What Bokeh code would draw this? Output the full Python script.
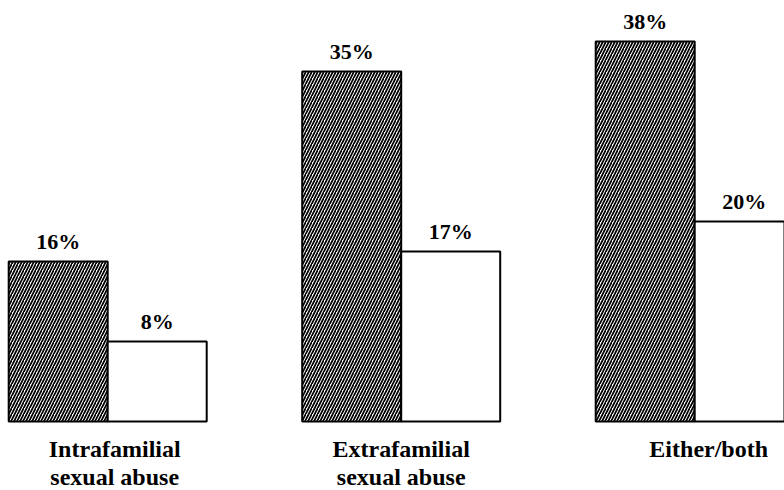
import numpy as np
from bokeh.plotting import figure
from bokeh.models import Range1d, ColumnDataSource
from bokeh.core.properties import value
from bokeh.embed import file_html
from bokeh.resources import INLINE

# ---- data ----
categories_line1 = ["Intrafamilial", "Extrafamilial", "Either/both"]
categories_line2 = ["sexual abuse", "sexual abuse", ""]
series_a = [16, 35, 38]   # hatched bars
series_b = [8, 17, 20]    # white bars

# ---- layout / style ----
W, H = 784, 490
px_per_group = 293.5
group0_px = 107.2
baseline_from_bottom = 69
px_per_unit_y = 10.0
bar_w = 99 / px_per_group
label_dx = [7, 0, 14]  # pixel nudges of category labels

idx = np.arange(len(categories_line1), dtype=float)

p = figure(width=W, height=H, output_backend="svg", toolbar_location=None,
           x_axis_location=None, y_axis_location=None, min_border=0,
           x_range=Range1d(-group0_px / px_per_group, (W - group0_px) / px_per_group),
           y_range=Range1d(-baseline_from_bottom / px_per_unit_y,
                           (H - baseline_from_bottom) / px_per_unit_y))
p.grid.visible = False
p.outline_line_color = None
p.background_fill_color = "white"
p.border_fill_color = "white"

src_a = ColumnDataSource(dict(x=idx - bar_w / 2, top=series_a,
                              lab=[f"{v}%" for v in series_a]))
src_b = ColumnDataSource(dict(x=idx + bar_w / 2, top=series_b,
                              lab=[f"{v}%" for v in series_b]))

p.vbar(x="x", top="top", bottom=0, width=bar_w, source=src_a,
       fill_color="white", line_color="black", line_width=2,
       hatch_pattern="right_diagonal_line", hatch_color="black",
       hatch_scale=6, hatch_weight=1.7)
p.vbar(x="x", top="top", bottom=0, width=bar_w, source=src_b,
       fill_color="white", line_color="black", line_width=2)

font = value("Liberation Serif")
for src in (src_a, src_b):
    p.text(x="x", y="top", text="lab", source=src, text_align="center",
           text_baseline="alphabetic", y_offset=-20, text_font=font,
           text_font_style="bold", text_font_size="22px", text_color="black")

lab_src = ColumnDataSource(dict(x=idx, l1=categories_line1, l2=categories_line2,
                                dx=label_dx,
                                y1=[-2.7] * len(idx), y2=[-5.5] * len(idx)))
p.text(x="x", y="y1", text="l1", x_offset="dx", source=lab_src, text_align="center",
       text_baseline="alphabetic", text_font=font, text_font_style="bold",
       text_font_size="24px", text_color="black")
p.text(x="x", y="y2", text="l2", x_offset="dx", source=lab_src, text_align="center",
       text_baseline="alphabetic", text_font=font, text_font_style="bold",
       text_font_size="24px", text_color="black")

open("out.html", "w").write(file_html(p, INLINE))
